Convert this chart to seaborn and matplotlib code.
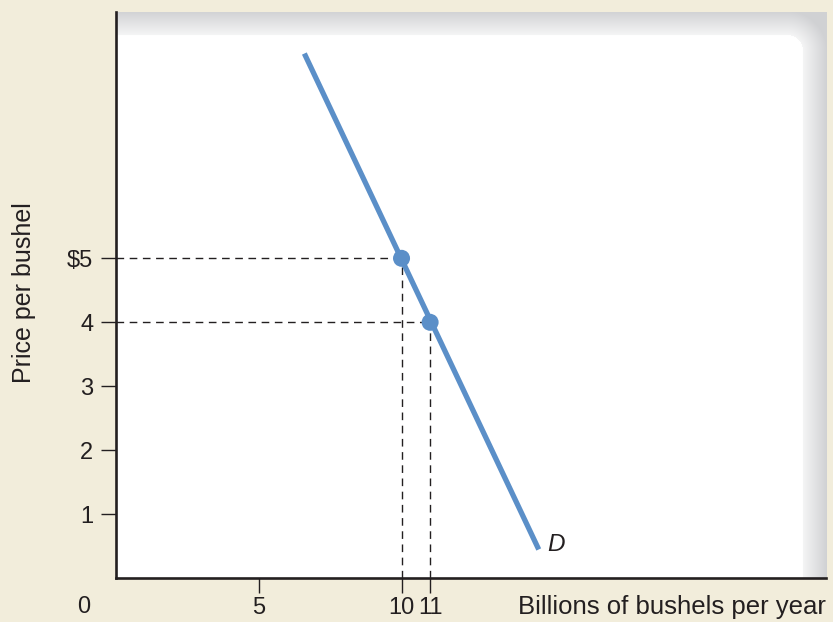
import numpy as np
import pandas as pd
import matplotlib
matplotlib.use("Agg")
import matplotlib.pyplot as plt
import seaborn as sns

# demand curve end points and the two marked points
quantity_line = [6.6, 14.8]
price_line = [8.2, 0.45]
quantity_pts = [10, 11]
price_pts = [5, 4]

x_ticks = [5, 10, 11]
x_tick_labels = ["5", "10", "11"]
y_ticks = [1, 2, 3, 4, 5]
y_tick_labels = ["1", "2", "3", "4", "$5"]

line_df = pd.DataFrame({"quantity": quantity_line, "price": price_line})
pts_df = pd.DataFrame({"quantity": quantity_pts, "price": price_pts})

sns.set_style("ticks")
plt.rcParams["font.family"] = ["Liberation Sans", "DejaVu Sans"]

ink = "#231f20"
blue = "#5b8fc8"
beige = "#f2eddb"

fig = plt.figure(figsize=(8.33, 6.22), dpi=100)
fig.patch.set_facecolor(beige)
pos = [0.1389, 0.0703, 0.8527, 0.9105]

# background panel with grey shading along the top and right edges
bg = fig.add_axes(pos, zorder=0)
bg.set_axis_off()
w, h = 710, 566
band = 24.0
rad = 16.0
xx, yy = np.meshgrid(np.arange(w) + 0.5, np.arange(h) + 0.5)
ix, iy = w - band - rad, band + rad  # centre of the rounded inner corner
dx = np.clip(xx - ix, 0, None)
dy = np.clip(iy - yy, 0, None)
d = np.sqrt(dx ** 2 + dy ** 2) - rad
t = np.clip(d / band, 0, 1)
grey = np.where(d > 0, 0.04 + 0.14 * t, 0.0)
img = np.dstack([1 - grey * 1.02, 1 - grey * 1.0, 1 - grey * 0.95])
img = np.clip(img, 0, 1)
bg.imshow(img, extent=[0, 1, 0, 1], aspect="auto", origin="upper")
bg.set_xlim(0, 1)
bg.set_ylim(0, 1)

ax = fig.add_axes(pos, zorder=1)
ax.set_facecolor("none")

# dashed guide lines
for q, p in zip(quantity_pts, price_pts):
    ax.plot([0, q], [p, p], ls=(0, (5.5, 4)), color=ink, lw=1.0, zorder=2)
    ax.plot([q, q], [0, p], ls=(0, (5.5, 4)), color=ink, lw=1.0, zorder=2)

sns.lineplot(data=line_df, x="quantity", y="price", ax=ax, color=blue,
             lw=3.8, zorder=3, solid_capstyle="butt")
sns.scatterplot(data=pts_df, x="quantity", y="price", ax=ax, color=blue,
                s=150, edgecolor="none", zorder=4)

ax.text(quantity_line[1] + 0.6, price_line[1] + 0.08, "D", style="italic",
        fontsize=17.5, color=ink, ha="center", va="center")

ax.set_xlim(0, 24.85)
ax.set_ylim(0, 8.85)
ax.set_xticks(x_ticks)
ax.set_xticklabels(x_tick_labels)
ax.set_yticks(y_ticks)
ax.set_yticklabels(y_tick_labels)
ax.tick_params(axis="both", length=11, width=1.0, color=ink, labelcolor=ink,
               labelsize=17)
ax.tick_params(axis="x", pad=2.5)
ax.tick_params(axis="y", pad=5)
ax.set_xlabel("")
ax.set_ylabel("")

sns.despine(ax=ax, top=True, right=True)
for s in ["left", "bottom"]:
    ax.spines[s].set_linewidth(1.9)
    ax.spines[s].set_color(ink)

# origin label and axis titles
ax.annotate("0", xy=(0, 0), xycoords="data", xytext=(-22.8, -20.7),
            textcoords="offset points", fontsize=17, color=ink,
            ha="center", va="center", annotation_clip=False)
fig.text(0.992, 0.0241, "Billions of bushels per year", fontsize=18.5,
         color=ink, ha="right", va="center")
fig.text(0.029, 0.529, "Price per bushel", fontsize=18, color=ink,
         rotation=90, ha="center", va="center")

fig.savefig("out.png", dpi=100, facecolor=beige)
